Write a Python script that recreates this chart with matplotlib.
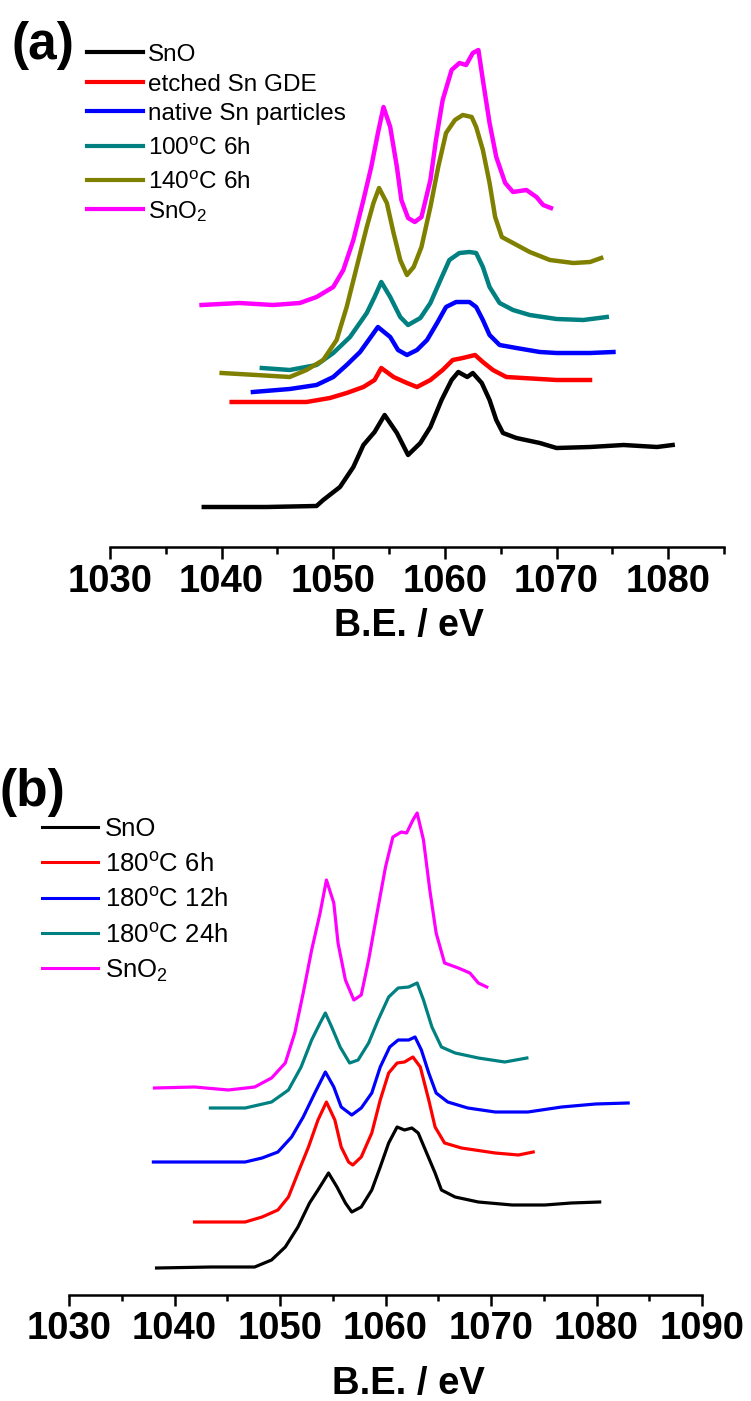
import matplotlib
matplotlib.use('Agg')
import matplotlib.pyplot as plt
from matplotlib import font_manager
from matplotlib.lines import Line2D
from matplotlib.ticker import MultipleLocator

# fonts: narrow bold for the axis if it is there, else plain Liberation Sans a bit smaller
installed = {f.name for f in font_manager.fontManager.ttflist}
HAVE_NARROW = 'Liberation Sans Narrow' in installed
NARROW = 'Liberation Sans Narrow' if HAVE_NARROW else 'Liberation Sans'
plt.rcParams['font.family'] = ['Liberation Sans', 'DejaVu Sans']
plt.rcParams['mathtext.fontset'] = 'custom'
plt.rcParams['mathtext.rm'] = 'Liberation Sans'
plt.rcParams['mathtext.it'] = 'Liberation Sans:italic'
plt.rcParams['mathtext.bf'] = 'Liberation Sans:bold'

# ---- panel (a) data: binding energy (eV) and offset intensity (a.u.) ----
sno_a_E = [1038.4, 1040.0, 1044.0, 1048.5, 1049.1, 1050.6, 1051.8, 1052.7, 1053.7, 1054.6, 1055.7, 1056.7,
           1057.8, 1058.7, 1059.7, 1060.6, 1061.2, 1062.0, 1062.5, 1063.3, 1064.0, 1064.6, 1065.2, 1066.4,
           1068.5, 1070.0, 1073.0, 1076.0, 1079.0, 1080.4]
sno_a_I = [40, 40, 40, 41, 47, 60, 80, 102, 115, 132, 114, 92, 104, 120, 147, 167, 175, 170, 174, 164,
           147, 127, 114, 109, 104, 99, 100, 102, 100, 102]

etched_a_E = [1040.9, 1044.0, 1047.6, 1049.7, 1051.2, 1052.7, 1053.7, 1054.3, 1055.4, 1056.6, 1057.5,
              1058.7, 1059.8, 1060.7, 1061.6, 1062.7, 1063.4, 1064.3, 1065.5, 1067.0, 1070.0, 1073.0]
etched_a_I = [145, 145, 145, 149, 154, 160, 167, 179, 170, 164, 160, 167, 177, 187, 189, 192, 185, 177,
              170, 169, 167, 167]

native_a_E = [1042.8, 1046.1, 1048.5, 1050.0, 1051.2, 1052.4, 1053.3, 1054.0, 1055.1, 1055.8, 1056.6,
              1057.5, 1058.4, 1059.3, 1060.1, 1061.0, 1062.2, 1062.8, 1063.4, 1064.0, 1064.9, 1066.4,
              1068.5, 1070.0, 1073.0, 1075.1]
native_a_I = [155, 158, 162, 170, 182, 195, 209, 220, 210, 197, 192, 197, 207, 224, 240, 245, 245, 240,
              227, 212, 202, 199, 195, 194, 194, 195]

t100_a_E = [1043.6, 1046.1, 1048.5, 1050.0, 1051.5, 1053.0, 1053.7, 1054.3, 1055.1, 1056.0, 1056.7,
            1057.8, 1058.7, 1059.6, 1060.4, 1061.3, 1062.2, 1062.8, 1063.4, 1064.0, 1064.9, 1066.1,
            1067.6, 1070.0, 1072.4, 1074.5]
t100_a_I = [179, 177, 182, 194, 210, 234, 250, 265, 250, 230, 222, 229, 244, 267, 287, 294, 295, 294,
            280, 260, 244, 237, 232, 228, 227, 230]

t140_a_E = [1040.0, 1043.1, 1046.1, 1047.6, 1049.1, 1050.3, 1051.2, 1052.1, 1053.0, 1053.6, 1054.1,
            1054.8, 1055.4, 1056.0, 1056.6, 1057.2, 1057.9, 1058.7, 1059.4, 1060.1, 1060.9, 1061.6,
            1062.4, 1062.8, 1063.4, 1064.0, 1064.5, 1065.1, 1066.1, 1067.6, 1069.4, 1071.5, 1073.0, 1074.0]
t140_a_I = [174, 172, 170, 177, 187, 207, 240, 280, 320, 344, 359, 344, 314, 287, 272, 280, 300, 340,
            380, 414, 427, 432, 430, 420, 397, 364, 330, 310, 304, 295, 287, 284, 285, 289]

sno2_a_E = [1038.2, 1041.6, 1044.6, 1047.0, 1048.5, 1050.0, 1050.9, 1051.8, 1052.7, 1053.4, 1054.0,
            1054.5, 1055.1, 1055.7, 1056.1, 1056.7, 1057.3, 1057.9, 1058.7, 1059.2, 1059.8, 1060.6,
            1061.3, 1061.9, 1062.5, 1063.0, 1063.4, 1064.0, 1064.6, 1065.4, 1066.1, 1067.3, 1068.2,
            1068.8, 1069.5]
sno2_a_I = [242, 244, 242, 244, 250, 260, 277, 307, 347, 380, 414, 440, 420, 380, 347, 329, 325, 330,
            367, 407, 447, 477, 484, 482, 494, 497, 467, 424, 390, 364, 355, 357, 350, 342, 339]

# ---- panel (b) data ----
sno_b_E = [1038.3, 1043.5, 1047.6, 1049.2, 1050.5, 1051.7, 1052.8, 1053.6, 1054.6, 1055.4, 1056.2,
           1056.8, 1057.7, 1058.7, 1059.5, 1060.3, 1061.1, 1061.8, 1062.5, 1063.1, 1063.9, 1064.7,
           1065.3, 1066.6, 1068.8, 1072.0, 1075.1, 1077.6, 1080.3]
sno_b_I = [27, 28, 28, 35, 48, 68, 92, 105, 122, 108, 92, 83, 88, 105, 128, 152, 168, 165, 167, 162,
           142, 122, 105, 98, 93, 90, 90, 92, 93]

h6_b_E = [1041.9, 1046.7, 1048.3, 1049.8, 1050.8, 1051.7, 1052.7, 1053.6, 1054.4, 1055.2, 1055.8,
          1056.5, 1056.9, 1057.7, 1058.7, 1059.5, 1060.3, 1061.1, 1061.8, 1062.6, 1063.3, 1064.1,
          1064.7, 1065.6, 1067.2, 1070.4, 1072.6, 1074.0]
h6_b_I = [73, 73, 78, 85, 98, 122, 148, 175, 193, 175, 148, 133, 130, 138, 162, 195, 222, 232, 233,
          238, 228, 195, 168, 152, 147, 142, 140, 143]

h12_b_E = [1038.0, 1041.9, 1046.7, 1048.3, 1049.8, 1051.1, 1052.2, 1053.3, 1054.3, 1055.1, 1055.8,
           1056.8, 1057.7, 1058.7, 1059.5, 1060.4, 1061.2, 1062.2, 1062.8, 1063.4, 1064.1, 1064.8,
           1065.9, 1067.8, 1070.4, 1073.5, 1076.7, 1079.9, 1083.0]
h12_b_I = [133, 133, 133, 137, 143, 158, 178, 202, 223, 208, 188, 180, 187, 202, 228, 248, 255, 255,
           258, 245, 222, 202, 193, 187, 183, 183, 188, 191, 192]

h24_b_E = [1043.4, 1046.7, 1049.2, 1050.8, 1052.0, 1053.0, 1053.8, 1054.3, 1054.9, 1055.7, 1056.6,
           1057.4, 1058.4, 1059.3, 1060.3, 1061.2, 1062.2, 1063.0, 1063.6, 1064.4, 1065.3, 1066.6,
           1068.8, 1071.3, 1073.4]
h24_b_I = [187, 187, 193, 205, 228, 255, 272, 282, 268, 248, 232, 235, 252, 275, 298, 307, 308, 312,
           295, 268, 248, 242, 237, 233, 237]

sno2_b_E = [1038.1, 1041.9, 1045.1, 1047.6, 1049.2, 1050.5, 1051.4, 1052.2, 1053.0, 1053.8, 1054.4,
            1055.1, 1055.5, 1056.2, 1057.0, 1057.7, 1058.4, 1059.2, 1060.0, 1060.7, 1061.5, 1062.0,
            1062.6, 1063.0, 1063.6, 1064.2, 1064.8, 1065.6, 1066.9, 1068.0, 1068.8, 1069.6]
sno2_b_I = [207, 208, 205, 208, 217, 232, 262, 302, 345, 382, 415, 392, 352, 315, 295, 300, 335, 382,
            428, 458, 463, 462, 475, 482, 455, 405, 362, 332, 327, 322, 312, 308]

labels_a = ['SnO', 'etched Sn GDE', 'native Sn particles', '100$^{\\rm o}$C 6h', '140$^{\\rm o}$C 6h', 'SnO$_2$']
colors_a = ['#000000', '#ff0000', '#0000ff', '#008080', '#808000', '#ff00ff']
series_a = [(sno_a_E, sno_a_I), (etched_a_E, etched_a_I), (native_a_E, native_a_I),
            (t100_a_E, t100_a_I), (t140_a_E, t140_a_I), (sno2_a_E, sno2_a_I)]

labels_b = ['SnO', '180$^{\\rm o}$C 6h', '180$^{\\rm o}$C 12h', '180$^{\\rm o}$C 24h', 'SnO$_2$']
colors_b = ['#000000', '#ff0000', '#0000ff', '#008080', '#ff00ff']
series_b = [(sno_b_E, sno_b_I), (h6_b_E, h6_b_I), (h12_b_E, h12_b_I), (h24_b_E, h24_b_I), (sno2_b_E, sno2_b_I)]

# sizes depend on whether the narrow face exists
if HAVE_NARROW:
    tick_a, tick_b, xl_a, xl_b, leg_b = 30, 31.5, 29, 30, 20.5
else:
    tick_a, tick_b, xl_a, xl_b, leg_b = 27.5, 27.5, 27, 27.5, 18.5

W, H = 751, 1401
fig = plt.figure(figsize=(W / 100, H / 100), dpi=100)


def style_axis(ax, xmax, ticksize, ticklen, labelsize, labelx, labely):
    ax.set_xlim(1030, xmax)
    for side in ['left', 'right', 'top']:
        ax.spines[side].set_visible(False)
    ax.spines['bottom'].set_linewidth(1.8)
    ax.set_yticks([])
    ax.xaxis.set_major_locator(MultipleLocator(10))
    ax.xaxis.set_minor_locator(MultipleLocator(5))
    ax.tick_params(axis='x', which='major', direction='out', length=ticklen, width=1.8, pad=3.5)
    ax.tick_params(axis='x', which='minor', direction='out', length=ticklen * 0.55, width=1.8)
    for lab in ax.get_xticklabels():
        lab.set_fontfamily(NARROW)
        lab.set_fontweight('bold')
        lab.set_fontsize(ticksize)
    ax.set_xlabel('B.E. / eV', fontfamily=NARROW, fontweight='bold', fontsize=labelsize)
    ax.xaxis.set_label_coords(labelx, labely)
    ax.patch.set_visible(False)


# panel (a)
ax1 = fig.add_axes([110 / W, 1 - 547 / H, 614 / W, 500 / H])
ax1.set_ylim(0, 500)
for (e, i), c in zip(series_a, colors_a):
    ax1.plot(e, i, color=c, lw=3.2, solid_joinstyle='round', clip_on=False)
style_axis(ax1, 1085, tick_a, 8.6, xl_a, 0.487, -0.122)

# panel (b)
ax2 = fig.add_axes([69 / W, 1 - 1295 / H, 633 / W, 490 / H])
ax2.set_ylim(0, 490)
for (e, i), c in zip(series_b, colors_b):
    ax2.plot(e, i, color=c, lw=2.3, solid_joinstyle='round', clip_on=False)
style_axis(ax2, 1090, tick_b, 7.7, xl_b, 0.5355, -0.145)

# panel letters
fig.text(12 / W, 1 - 46 / H, '(a)', fontsize=37, fontweight='bold', ha='left', va='center')
fig.text(-1 / W, 1 - 792 / H, '(b)', fontsize=37, fontweight='bold', ha='left', va='center')

# hand-placed legends (uneven row spacing in the original)
rows_a = [52.3, 81.7, 111, 145.7, 180, 209.3]
for lab, c, y in zip(labels_a, colors_a, rows_a):
    fig.add_artist(Line2D([87 / W, 143 / W], [1 - y / H, 1 - y / H], color=c, lw=3.0))
    fig.text(148 / W, 1 - (y + 9) / H, lab, fontsize=17.5, va='baseline', ha='left')

rows_b = [826.7, 862, 897.7, 933, 968]
for lab, c, y in zip(labels_b, colors_b, rows_b):
    fig.add_artist(Line2D([42 / W, 98 / W], [1 - y / H, 1 - y / H], color=c, lw=2.2))
    fig.text(105 / W, 1 - (y + 9.5) / H, lab, fontsize=leg_b, fontfamily=NARROW, va='baseline', ha='left')

fig.savefig('out.png', dpi=100)
